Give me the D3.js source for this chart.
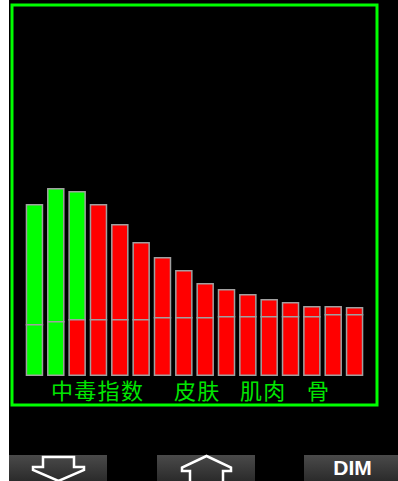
<!DOCTYPE html>
<html>
<head>
<meta charset="utf-8">
<script src="https://cdn.jsdelivr.net/npm/d3@7"></script>
<style>
html, body { margin: 0; padding: 0; background: #fff; }
svg { display: block; }
</style>
</head>
<body>
<div id="chart"></div>
<script>
// tissue compartments, left to right
var compartments = ["1","2","3","4","5","6","7","8","9","10","11","12","13","14","15","16"];
// total load per compartment (bar top)
var totalLoad = [172, 188, 185, 172, 152, 134, 119, 106, 93, 87, 82, 77, 74, 70, 70, 69];
// lower part of the bar
var baseLoad = [52, 55, 57, 57, 57, 57, 59, 59, 59, 60, 60, 60, 60, 60, 62, 62];
// state of upper / lower part
var upperState = ["ok","ok","ok","high","high","high","high","high","high","high","high","high","high","high","high","high"];
var lowerState = ["ok","ok","high","high","high","high","high","high","high","high","high","high","high","high","high","high"];
// group labels under the bars
var groupLabels = ["中毒指数", "皮肤", "肌肉", "骨"];

var width = 398;
var height = 481;

var svg = d3.select("#chart")
	.append("svg")
	.attr("width", width)
	.attr("height", height);

// white strip at left, black screen
svg.append("rect")
	.attr("x", 0).attr("y", 0)
	.attr("width", width).attr("height", height)
	.attr("fill", "#fff");
svg.append("rect")
	.attr("x", 9).attr("y", 0)
	.attr("width", width - 9).attr("height", height)
	.attr("fill", "#000");

// green frame
svg.append("rect")
	.attr("x", 12)
	.attr("y", 5)
	.attr("width", 365)
	.attr("height", 400)
	.attr("fill", "none")
	.attr("stroke", "#00ff00")
	.attr("stroke-width", 3);

var xScale = d3.scaleBand()
	.domain(compartments)
	.range([25.7, 363.3])
	.paddingInner(0.18)
	.paddingOuter(0);

var yScale = d3.scaleLinear()
	.domain([0, 370])
	.range([376, 6]);

var color = { ok: "#00ff00", high: "#ff0000" };

var bars = compartments.map(function(c, i){
	return { id: c, total: totalLoad[i], base: baseLoad[i], up: upperState[i], low: lowerState[i] };
});

var g = svg.append("g");

// upper part
g.selectAll(".upper")
	.data(bars)
	.enter()
	.append("rect")
	.attr("class", "upper")
	.attr("x", function(d){ return xScale(d.id) + 0.75; })
	.attr("y", function(d){ return yScale(d.total) + 0.75; })
	.attr("width", xScale.bandwidth() - 1.5)
	.attr("height", function(d){ return yScale(d.base) - yScale(d.total); })
	.attr("fill", function(d){ return color[d.up]; })
	.attr("stroke", "#a0a0a0")
	.attr("stroke-width", 1.5);

// lower part
g.selectAll(".lower")
	.data(bars)
	.enter()
	.append("rect")
	.attr("class", "lower")
	.attr("x", function(d){ return xScale(d.id) + 0.75; })
	.attr("y", function(d){ return yScale(d.base) + 0.75; })
	.attr("width", xScale.bandwidth() - 1.5)
	.attr("height", function(d){ return yScale(0) - yScale(d.base) - 1.5; })
	.attr("fill", function(d){ return color[d.low]; })
	.attr("stroke", "#a0a0a0")
	.attr("stroke-width", 1.5);

// labels
var labelX = [51, 174, 240, 307];
svg.selectAll(".grp")
	.data(groupLabels)
	.enter()
	.append("text")
	.attr("class", "grp")
	.attr("x", function(d, i){ return labelX[i]; })
	.attr("y", 399)
	.attr("fill", "#00e600")
	.style("font-family", "'Noto Sans CJK SC'")
	.style("font-size", "22px")
	.style("letter-spacing", "1.3px")
	.text(function(d){ return d; });

// buttons
var defs = svg.append("defs");
var grad = defs.append("linearGradient")
	.attr("id", "btn")
	.attr("x1", 0).attr("y1", 0).attr("x2", 0).attr("y2", 1);
grad.append("stop").attr("offset", "0%").attr("stop-color", "#4a4a4a");
grad.append("stop").attr("offset", "100%").attr("stop-color", "#262626");

var buttons = [[9, 98], [157, 98], [304, 94]];
svg.selectAll(".btn")
	.data(buttons)
	.enter()
	.append("rect")
	.attr("class", "btn")
	.attr("x", function(d){ return d[0]; })
	.attr("y", 455)
	.attr("width", function(d){ return d[1]; })
	.attr("height", 30)
	.attr("fill", "url(#btn)");

// down arrow
svg.append("path")
	.attr("d", "M43,457 L74,457 L74,467 L84,467 L84,470 L58.5,481 L33,470 L33,467 L43,467 Z")
	.attr("fill", "none")
	.attr("stroke", "#fff")
	.attr("stroke-width", 2.5);

// up arrow
svg.append("path")
	.attr("d", "M190,483 L190,471 L182,471 L182,467.5 L206.5,456 L231,467.5 L231,471 L223,471 L223,483")
	.attr("fill", "none")
	.attr("stroke", "#fff")
	.attr("stroke-width", 2.5);

svg.append("text")
	.attr("x", 352.5)
	.attr("y", 475)
	.attr("text-anchor", "middle")
	.attr("fill", "#fff")
	.style("font-family", "'Liberation Sans'")
	.style("font-weight", "bold")
	.style("font-size", "21px")
	.text("DIM");
</script>
</body>
</html>
